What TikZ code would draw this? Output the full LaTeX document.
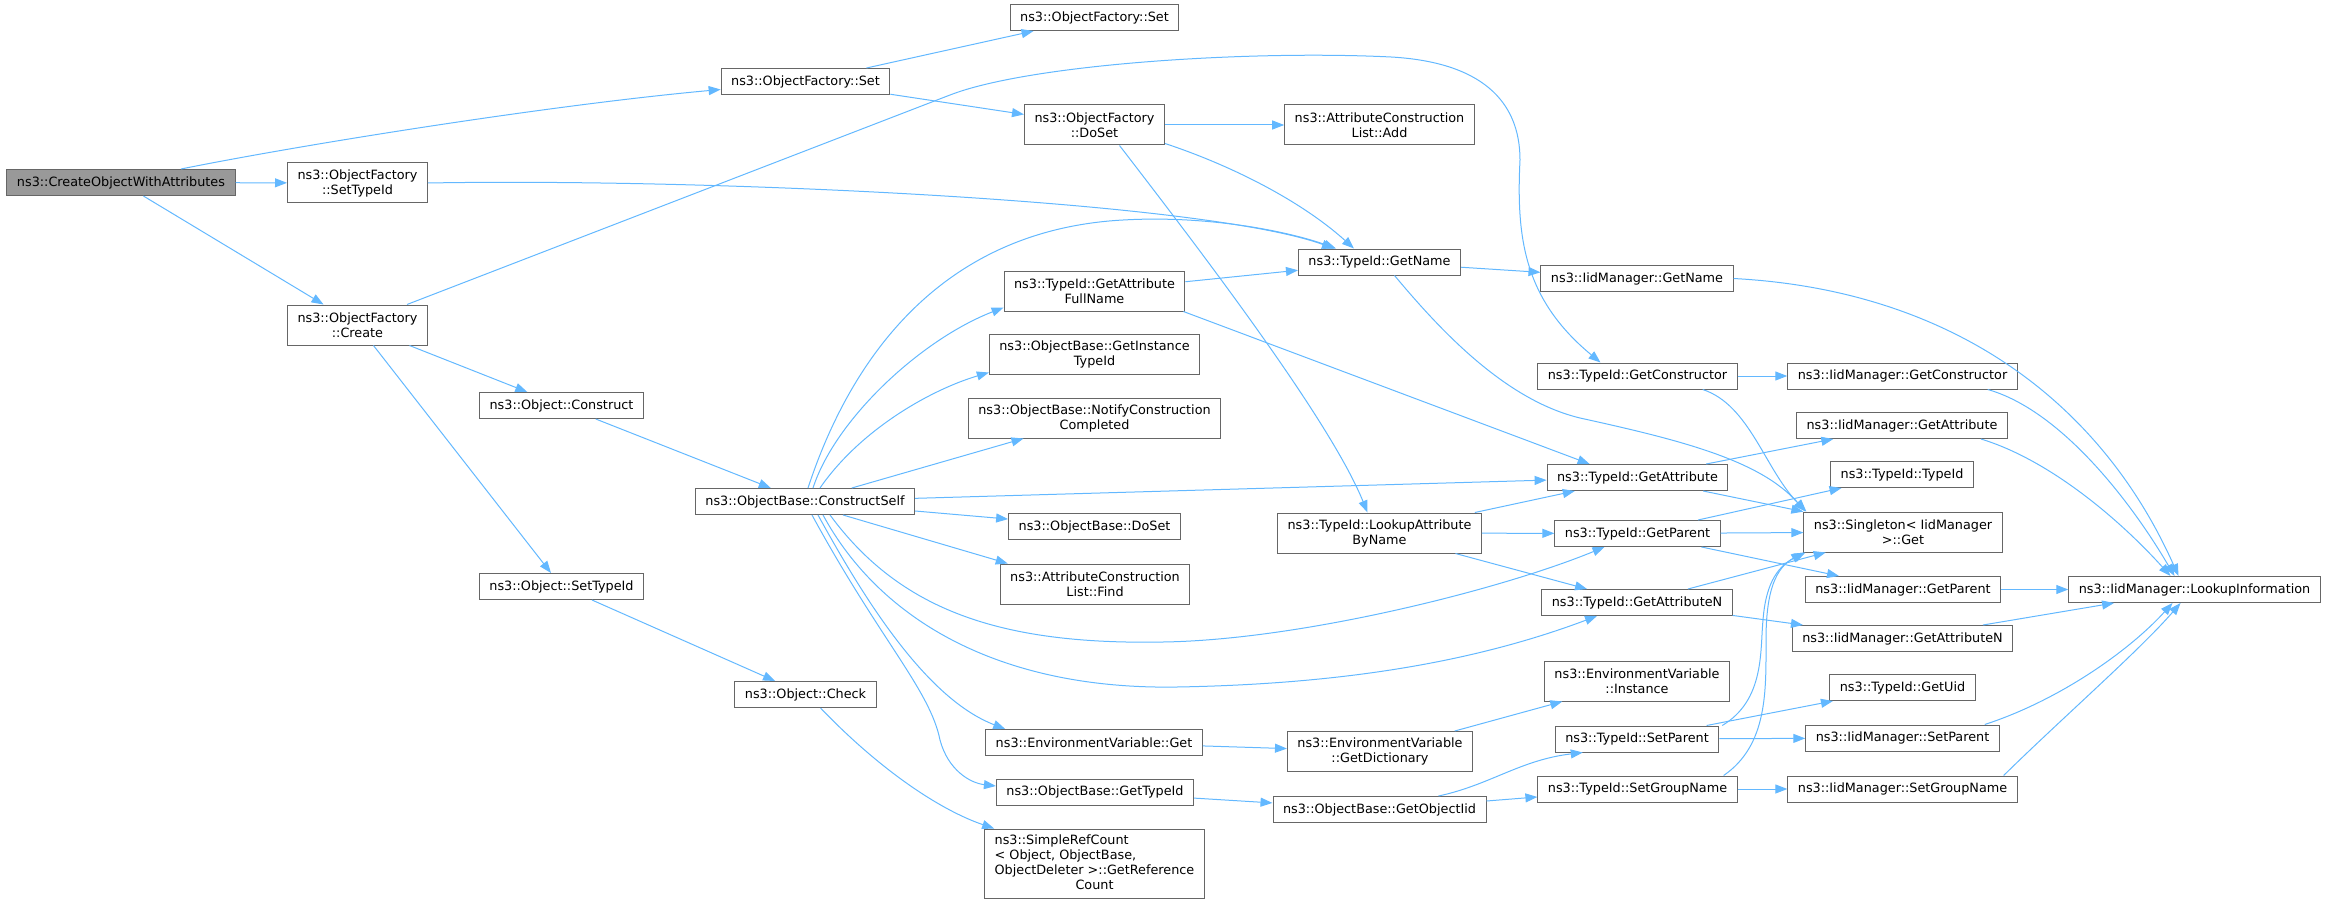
\documentclass[tikz,border=0pt]{standalone}
\usepackage{fontspec}
\setmainfont{DejaVu Sans}
\usepackage{tikz}
\usetikzlibrary{arrows.meta,calc}
\definecolor{edgeblue}{HTML}{63B8FF}
\definecolor{boxline}{HTML}{666666}
\definecolor{rootfill}{HTML}{999999}

\begin{document}
\begin{tikzpicture}[
        x = 1pt, y = -1pt,
        >= {Triangle[length=12pt,width=9pt]},
        fn/.style = {draw=boxline, line width=1pt, fill=white, inner xsep=10pt, inner ysep=3pt,
            minimum height=26pt, align=center, font=\fontsize{12.8pt}{15pt}\selectfont},
        two/.style = {minimum height=40pt},
        root/.style = {fn, fill=rootfill},
        call/.style = {->, edgeblue, line width=1pt}
    ]
        \useasboundingbox (0,0) rectangle (2328,904);
        \node [root] (cowa) at (121,182.5) {ns3::CreateObjectWithAttributes};
        \node [fn] (ofset1) at (805.5,81.5) {ns3::ObjectFactory::Set};
        \node [fn] (ofset2) at (1094.5,17.5) {ns3::ObjectFactory::Set};
        \node [fn,two] (ofsettid) at (357.5,183) {ns3::ObjectFactory\\::SetTypeId};
        \node [fn,two] (ofcreate) at (357.5,325) {ns3::ObjectFactory\\::Create};
        \node [fn,two] (ofdoset) at (1094.5,125) {ns3::ObjectFactory\\::DoSet};
        \node [fn,two] (acladd) at (1379.5,125) {ns3::AttributeConstruction\\List::Add};
        \node [fn] (tgetname) at (1379.5,262) {ns3::TypeId::GetName};
        \node [fn] (igetname) at (1637,278.5) {ns3::IidManager::GetName};
        \node [fn,two] (tgafn) at (1094.5,291) {ns3::TypeId::GetAttribute\\FullName};
        \node [fn,two] (obgitid) at (1094.5,354) {ns3::ObjectBase::GetInstance\\TypeId};
        \node [fn,two] (obncc) at (1094.5,418) {ns3::ObjectBase::NotifyConstruction\\Completed};
        \node [fn] (oconstruct) at (561.5,405.5) {ns3::Object::Construct};
        \node [fn] (obcs) at (805,501.5) {ns3::ObjectBase::ConstructSelf};
        \node [fn] (obdoset) at (1094.5,526.5) {ns3::ObjectBase::DoSet};
        \node [fn,two] (aclfind) at (1095,584) {ns3::AttributeConstruction\\List::Find};
        \node [fn] (osettid) at (561.5,586.5) {ns3::Object::SetTypeId};
        \node [fn] (ocheck) at (805.5,694.5) {ns3::Object::Check};
        \node [fn] (evget) at (1094,742.5) {ns3::EnvironmentVariable::Get};
        \node [fn] (obgtid) at (1095,792) {ns3::ObjectBase::GetTypeId};
        \node [fn,minimum height=69pt] (srcgrc) at (1094.5,863.5) {\begin{tabular}{@{}l@{}}ns3::SimpleRefCount\\< Object, ObjectBase,\\ ObjectDeleter >::GetReference\\\multicolumn{1}{@{}c@{}}{Count}\end{tabular}};
        \node [fn] (tgctor) at (1637.5,376) {ns3::TypeId::GetConstructor};
        \node [fn] (igctor) at (1902.5,376) {ns3::IidManager::GetConstructor};
        \node [fn] (igattr) at (1902,425.5) {ns3::IidManager::GetAttribute};
        \node [fn] (tgattr) at (1637.5,477.5) {ns3::TypeId::GetAttribute};
        \node [fn] (ttypeid) at (1902,474.5) {ns3::TypeId::TypeId};
        \node [fn,two] (sget) at (1903,532) {ns3::Singleton< IidManager\\ >::Get};
        \node [fn,two] (tlabn) at (1379.5,533) {ns3::TypeId::LookupAttribute\\ByName};
        \node [fn] (tgparent) at (1637.5,533.5) {ns3::TypeId::GetParent};
        \node [fn] (igparent) at (1903,589.5) {ns3::IidManager::GetParent};
        \node [fn] (ilookup) at (2194.5,589.5) {ns3::IidManager::LookupInformation};
        \node [fn] (tgattrn) at (1637,602.5) {ns3::TypeId::GetAttributeN};
        \node [fn] (igattrn) at (1902.5,638.5) {ns3::IidManager::GetAttributeN};
        \node [fn,two] (evinst) at (1637,681) {ns3::EnvironmentVariable\\::Instance};
        \node [fn,two] (evdict) at (1380,751.5) {ns3::EnvironmentVariable\\::GetDictionary};
        \node [fn] (tguid) at (1902.5,687.5) {ns3::TypeId::GetUid};
        \node [fn] (tsparent) at (1637,739) {ns3::TypeId::SetParent};
        \node [fn] (isparent) at (1902.5,738) {ns3::IidManager::SetParent};
        \node [fn] (obgoiid) at (1379.5,809.5) {ns3::ObjectBase::GetObjectIid};
        \node [fn] (tsgroup) at (1637.5,789) {ns3::TypeId::SetGroupName};
        \node [fn] (isgroup) at (1902.5,789) {ns3::IidManager::SetGroupName};
        \draw [call] ($(cowa.north)+(60,0)$) .. controls (300,145) and (550,105) .. ($(ofset1.west)+(0,8)$);
        \draw [call] (cowa) -- (ofsettid);
        \draw [call] (cowa) -- (ofcreate);
        \draw [call] (ofset1) -- (ofset2);
        \draw [call] (ofset1) -- (ofdoset);
        \draw [call] (ofsettid.east) .. controls (700,178) and (1200,200) .. ($(tgetname.north west)+(36,0)$);
        \draw [call] ($(ofcreate.north east)+(-21,0)$) -- (950,95) .. controls (1030,64) and (1250,50) .. (1391,57) .. controls (1480,62) and (1520,100) .. (1520,160) .. controls (1516,240) and (1525,300) .. ($(tgctor.north)+(-37,0)$);
        \draw [call] (ofcreate) -- (oconstruct);
        \draw [call] (ofcreate) -- (osettid);
        \draw [call] (ofdoset) -- (acladd);
        \draw [call] ($(ofdoset.south east)+(0,-2)$) .. controls (1230,165) and (1300,200) .. ($(tgetname.north west)+(56,0)$);
        \draw [call] ($(ofdoset.south)+(25,0)$) .. controls (1200,250) and (1330,420) .. ($(tlabn.north)+(-12,0)$);
        \draw [call] (tgetname) -- (igetname);
        \draw [call] ($(tgetname.south)+(15,0)$) .. controls (1440,330) and (1505,400) .. (1580,418) .. controls (1680,440) and (1760,460) .. ($(sget.north west)+(2,0)$);
        \draw [call] (igetname.east) .. controls (1950,290) and (2100,400) .. ($(ilookup.north)+(-16,0)$);
        \draw [call] (tgafn) -- (tgetname);
        \draw [call] ($(tgafn.south east)+(-2,0)$) -- ($(tgattr.north west)+(43,0)$);
        \draw [call] (oconstruct) -- (obcs);
        \draw [call] ($(obcs.north)+(3,0)$) .. controls (850,360) and (940,230) .. (1123,220) .. controls (1210,215) and (1290,232) .. ($(tgetname.north west)+(38,0)$);
        \draw [call] ($(obcs.north)+(8,0)$) .. controls (835,420) and (920,340) .. ($(tgafn.south west)+(0,-4)$);
        \draw [call] ($(obcs.north)+(15,0)$) .. controls (860,430) and (930,390) .. ($(obgitid.south west)+(0,-2)$);
        \draw [call] (obcs) -- (obncc);
        \draw [call] (obcs) -- (tgattr);
        \draw [call] (obcs) -- (obdoset);
        \draw [call] ($(obcs.south)+(38,0)$) -- ($(aclfind.north west)+(8,0)$);
        \draw [call] ($(obcs.south)+(25,0)$) .. controls (900,610) and (1000,645) .. (1163,642) .. controls (1300,640) and (1500,590) .. ($(tgparent.south)+(-33,0)$);
        \draw [call] ($(obcs.south)+(18,0)$) .. controls (880,620) and (1000,690) .. (1177,687) .. controls (1350,684) and (1480,660) .. ($(tgattrn.south)+(-40,0)$);
        \draw [call] ($(obcs.south)+(13,0)$) .. controls (870,610) and (930,700) .. ($(evget.north west)+(20,0)$);
        \draw [call] ($(obcs.south)+(7,0)$) .. controls (880,640) and (930,690) .. (940,740) .. controls (948,770) and (970,783) .. ($(obgtid.west)+(0,-6)$);
        \draw [call] (osettid) -- (ocheck);
        \draw [call] ($(ocheck.south)+(15,0)$) .. controls (880,770) and (940,810) .. ($(srcgrc.north west)+(10,0)$);
        \draw [call] (evget) -- (evdict);
        \draw [call] (obgtid) -- (obgoiid);
        \draw [call] (evdict) -- (evinst);
        \draw [call] ($(obgoiid.north east)+(-48,0)$) .. controls (1490,785) and (1520,760) .. ($(tsparent.south west)+(28,0)$);
        \draw [call] (obgoiid) -- (tsgroup);
        \draw [call] (tgctor) -- (igctor);
        \draw [call] ($(tgctor.south east)+(-35,0)$) .. controls (1750,405) and (1765,470) .. ($(sget.north west)+(3,0)$);
        \draw [call] ($(igctor.south east)+(-30,0)$) .. controls (2060,410) and (2130,500) .. ($(ilookup.north)+(-20,0)$);
        \draw [call] ($(igattr.south east)+(-27,0)$) .. controls (2050,460) and (2120,520) .. ($(ilookup.north)+(-24,0)$);
        \draw [call] (tgattr) -- (igattr);
        \draw [call] (tgattr) -- (sget);
        \draw [call] (tlabn) -- (tgattr);
        \draw [call] (tlabn) -- (tgparent);
        \draw [call] (tlabn) -- (tgattrn);
        \draw [call] (tgparent) -- (ttypeid);
        \draw [call] (tgparent) -- (sget);
        \draw [call] (tgparent) -- (igparent);
        \draw [call] (igparent) -- (ilookup);
        \draw [call] (tgattrn) -- (sget);
        \draw [call] (tgattrn) -- (igattrn);
        \draw [call] (igattrn) -- (ilookup);
        \draw [call] ($(tsparent.north east)+(3,0)$) .. controls (1765,700) and (1760,650) .. (1763,620) .. controls (1766,580) and (1780,565) .. ($(sget.south west)+(2,0)$);
        \draw [call] ($(tsgroup.north east)+(-14,0)$) .. controls (1768,745) and (1766,690) .. (1766,640) .. controls (1766,590) and (1776,568) .. (sget.south west);
        \draw [call] (tsparent) -- (tguid);
        \draw [call] (tsparent) -- (isparent);
        \draw [call] ($(isparent.north east)+(-15,0)$) .. controls (2060,700) and (2130,650) .. ($(ilookup.south)+(-22,0)$);
        \draw [call] (tsgroup) -- (isgroup);
        \draw [call] ($(isgroup.north east)+(-14,0)$) .. controls (2060,720) and (2140,650) .. ($(ilookup.south)+(-14,0)$);
        \end{tikzpicture}
\end{document}
